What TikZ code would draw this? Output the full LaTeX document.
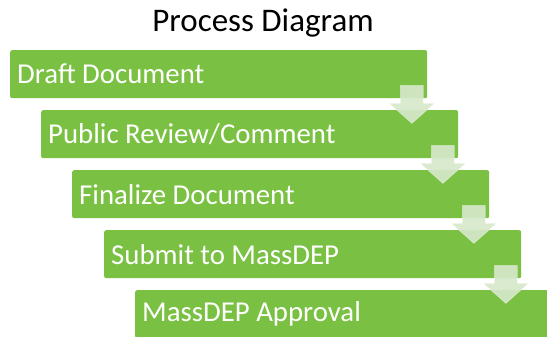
\documentclass[tikz,border=0pt]{standalone}
\usepackage{fontspec}
\setmainfont{Carlito}
\usetikzlibrary{calc}
\definecolor{stepgreen}{HTML}{7AC143}
\definecolor{arrowgreen}{HTML}{D6E8CA}
\tikzset{
  stepbox/.style={rectangle,rounded corners=2pt,fill=stepgreen,anchor=north west,
    minimum width=417pt,minimum height=48pt,text width=403pt,inner xsep=7pt,
    align=flush left,text=white,font=\fontsize{28.8}{30}\selectfont},
  downarrow/.style={fill=arrowgreen,fill opacity=0.92,draw=white,draw opacity=0.4,
    line width=0.6pt,line join=miter}
}
\begin{document}
\begin{tikzpicture}[x=1pt,y=-1pt]
\clip (0,0) rectangle (547,337);
% \draw[help lines] (0,0) grid (547,337);
\node (title) at (263,23) {\fontsize{33}{35}\selectfont Process Diagram};
\node (s1) [stepbox] at (10,50) {Draft Document};
\node (s2) [stepbox] at (41,110) {Public Review/Comment};
\node (s3) [stepbox] at (72,170) {Finalize Document};
\node (s4) [stepbox] at (104,230) {Submit to MassDEP};
\node (s5) [stepbox] at (135,290) {MassDEP Approval};
%
\foreach \a/\b in {1/2,2/3,3/4,4/5}
  \draw[downarrow] ($(s\a.south east)+(-15.5,0)$) ++(-11.5,-13) -- ++(23,0)
    -- ++(0,18) -- ++(11,0) -- ++(-22.5,20) -- ++(-22.5,-20) -- ++(11,0) -- cycle;
\end{tikzpicture}
\end{document}
